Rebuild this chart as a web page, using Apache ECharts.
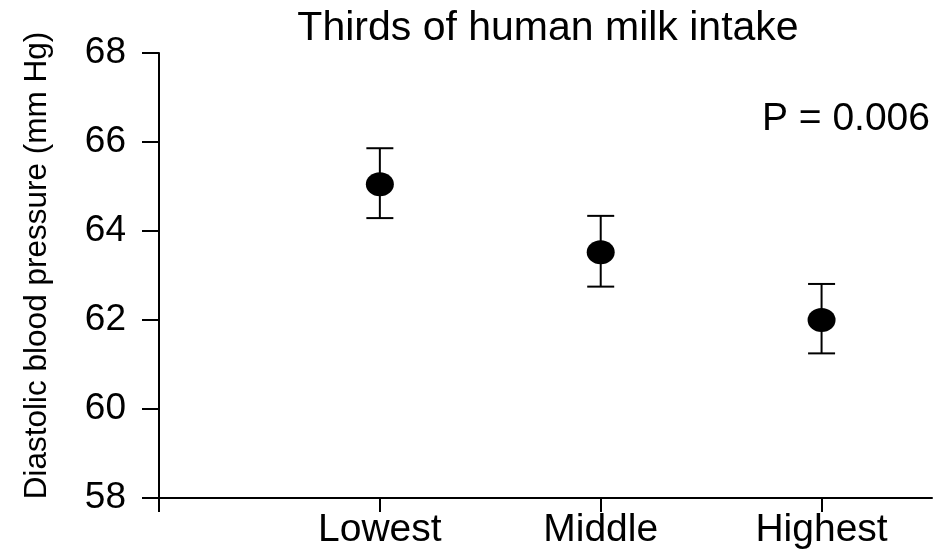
<!DOCTYPE html>
<html>
<head>
<meta charset="utf-8">
<script src="https://cdn.jsdelivr.net/npm/echarts@6/dist/echarts.min.js"></script>
<style>
html,body{margin:0;padding:0;background:#fff;}
#chart{width:949px;height:554px;}
</style>
</head>
<body>
<div id="chart"></div>
<script>
var categories = ['Lowest', 'Middle', 'Highest'];
var categoryPositions = [1, 2, 3];
var means = [65.05, 63.52, 62.0];
var lower = [64.29, 62.75, 61.25];
var upper = [65.86, 64.34, 62.81];
var yTicks = [58, 60, 62, 64, 66, 68];

var FONT = '"Liberation Sans", Arial, Helvetica, sans-serif';
var chart = echarts.init(document.getElementById('chart'));

var pointData = categoryPositions.map(function (p, i) { return [p, means[i]]; });
var errData = categoryPositions.map(function (p, i) { return [p, lower[i], upper[i]]; });

chart.setOption({
  animation: false,
  backgroundColor: '#fff',
  title: {
    text: 'Thirds of human milk intake',
    left: 543, top: 3, textAlign: 'center',
    textStyle: { fontFamily: FONT, fontSize: 41, fontWeight: 'normal', color: '#000' }
  },
  graphic: [{
    type: 'text', right: 19, top: 100,
    style: { text: 'P = 0.006', font: '39px ' + FONT, fill: '#000' }
  }],
  grid: { left: 159, right: 17, top: 53, bottom: 56, containLabel: false },
  xAxis: {
    type: 'value', min: 0, max: 3.5, interval: 1,
    splitLine: { show: false },
    axisLine: { show: true, lineStyle: { color: '#000', width: 2 } },
    axisTick: { show: true, length: 14, customValues: [0, 1, 2, 3], lineStyle: { color: '#000', width: 2 } },
    axisLabel: {
      customValues: categoryPositions, margin: 13,
      fontFamily: FONT, fontSize: 39, color: '#000',
      formatter: function (v) { var i = categoryPositions.indexOf(v); return i >= 0 ? categories[i] : ''; }
    }
  },
  yAxis: {
    type: 'value', min: yTicks[0], max: yTicks[yTicks.length - 1], interval: 2,
    name: 'Diastolic blood pressure (mm Hg)', nameLocation: 'middle', nameGap: 106,
    nameTextStyle: { fontFamily: FONT, fontSize: 31.5, color: '#000', padding: [0, 0, 0, 20] },
    splitLine: { show: false },
    axisLine: { show: true, lineStyle: { color: '#000', width: 2 } },
    axisTick: { show: true, length: 17, lineStyle: { color: '#000', width: 2 } },
    axisLabel: { margin: 33, fontFamily: FONT, fontSize: 37, color: '#000' }
  },
  series: [{
    type: 'custom',
    data: errData,
    renderItem: function (params, api) {
      var x = api.value(0);
      var lo = api.coord([x, api.value(1)]);
      var hi = api.coord([x, api.value(2)]);
      var hw = 13.5;
      var st = { stroke: '#000', lineWidth: 2 };
      return {
        type: 'group',
        children: [
          { type: 'line', shape: { x1: lo[0], y1: lo[1], x2: hi[0], y2: hi[1] }, style: st },
          { type: 'line', shape: { x1: lo[0] - hw, y1: lo[1], x2: lo[0] + hw, y2: lo[1] }, style: st },
          { type: 'line', shape: { x1: hi[0] - hw, y1: hi[1], x2: hi[0] + hw, y2: hi[1] }, style: st }
        ]
      };
    },
    z: 1
  }, {
    type: 'scatter',
    data: pointData,
    symbol: 'circle',
    symbolSize: [28, 24],
    itemStyle: { color: '#000', opacity: 1 },
    z: 2
  }]
});
</script>
</body>
</html>
